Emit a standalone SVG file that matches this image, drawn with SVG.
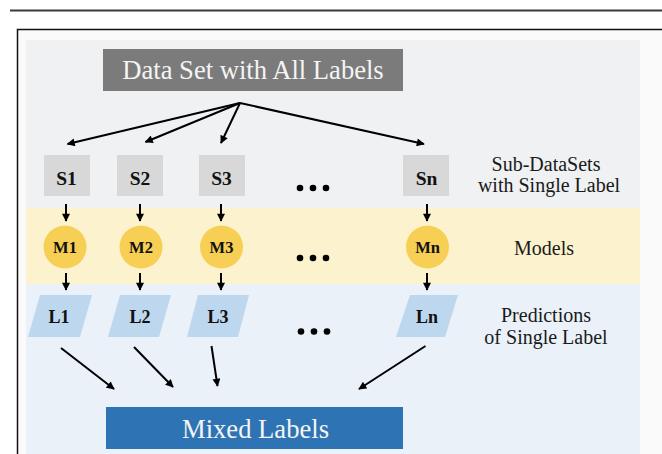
<svg xmlns="http://www.w3.org/2000/svg" width="662" height="454" viewBox="0 0 662 454">
<style>
.lab{font-family:'Liberation Serif','DejaVu Serif',serif;text-anchor:middle}
.big{font-size:26.6px;fill:#f4f4f4}
.side{font-size:20px;fill:#1a1a1a}
.bold{font-weight:bold;fill:#111}
.sbox{fill:#d8d8d8}
.mc{fill:#f8cf55}
.lp{fill:#bdd7ee}
.ar{stroke:#000;stroke-width:2;fill:none;marker-end:url(#ah)}
.dot{fill:#000}
</style>
<defs>
<marker id="ah" viewBox="0 0 10 10" refX="9" refY="5" markerUnits="userSpaceOnUse" markerWidth="9" markerHeight="8" orient="auto">
<path d="M0,0 L10,5 L0,10 z" fill="#000"/>
</marker>
</defs>
<rect x="0" y="0" width="662" height="454" fill="#ffffff"/>
<line x1="10" y1="10.5" x2="662" y2="10.5" stroke="#3a3a3a" stroke-width="2"/>
<rect x="17.5" y="29.5" width="650" height="430" fill="#fafafa" stroke="#111" stroke-width="1.5"/>
<rect x="26" y="40" width="614" height="168" fill="#eff1f3"/>
<rect x="26" y="208" width="614" height="76" fill="#fcf2ce"/>
<rect x="26" y="284" width="614" height="170" fill="#eaf1f8"/>

<g id="dataset">
<rect x="103" y="49" width="300" height="42" fill="#7b7b7b"/>
<text class="lab big" x="253" y="79">Data Set with All Labels</text>
</g>

<g id="S1"><rect class="sbox" x="44" y="155" width="46" height="41"/><text class="lab bold" font-size="19.5" x="66.5" y="185">S1</text></g>
<g id="S2"><rect class="sbox" x="117" y="155" width="46" height="41"/><text class="lab bold" font-size="19.5" x="140" y="185">S2</text></g>
<g id="S3"><rect class="sbox" x="199" y="155" width="46" height="41"/><text class="lab bold" font-size="19.5" x="221.5" y="185">S3</text></g>
<g id="Sn"><rect class="sbox" x="403" y="155" width="46" height="41"/><text class="lab bold" font-size="19.5" x="426.5" y="185">Sn</text></g>

<g id="M1"><circle class="mc" cx="65" cy="247" r="21.5"/><text class="lab bold" font-size="16.5" x="65" y="252.5">M1</text></g>
<g id="M2"><circle class="mc" cx="141" cy="247" r="21.5"/><text class="lab bold" font-size="16.5" x="141" y="252.5">M2</text></g>
<g id="M3"><circle class="mc" cx="221.5" cy="247" r="21.5"/><text class="lab bold" font-size="16.5" x="221.5" y="252.5">M3</text></g>
<g id="Mn"><circle class="mc" cx="427.5" cy="247" r="21.5"/><text class="lab bold" font-size="16.5" x="427.5" y="252.5">Mn</text></g>

<g id="L1"><polygon class="lp" points="40,295 92,295 80,337 28,337"/><text class="lab bold" font-size="18" x="59" y="323">L1</text></g>
<g id="L2"><polygon class="lp" points="120,295 171,295 159,337 108,337"/><text class="lab bold" font-size="18" x="140" y="323">L2</text></g>
<g id="L3"><polygon class="lp" points="198,295 249,295 238,337 187,337"/><text class="lab bold" font-size="18" x="218" y="323">L3</text></g>
<g id="Ln"><polygon class="lp" points="410,295 458,295 445,337 396,337"/><text class="lab bold" font-size="18" x="427" y="323">Ln</text></g>

<g id="mixed">
<rect x="106" y="407" width="297" height="42" fill="#2e74b5"/>
<text class="lab big" x="255.5" y="437.5">Mixed Labels</text>
</g>

<g id="ellipses">
<circle class="dot" cx="300" cy="188" r="3.3"/><circle class="dot" cx="313" cy="188" r="3.3"/><circle class="dot" cx="326" cy="188" r="3.3"/>
<circle class="dot" cx="300" cy="258" r="3.3"/><circle class="dot" cx="313" cy="258" r="3.3"/><circle class="dot" cx="326" cy="258" r="3.3"/>
<circle class="dot" cx="301" cy="331.5" r="3.3"/><circle class="dot" cx="314" cy="331.5" r="3.3"/><circle class="dot" cx="327" cy="331.5" r="3.3"/>
</g>

<g id="row-labels">
<text class="lab side" x="546" y="170.5">Sub-DataSets</text>
<text class="lab side" x="549" y="192">with Single Label</text>
<text class="lab side" x="544" y="255">Models</text>
<text class="lab side" x="546" y="321.5">Predictions</text>
<text class="lab side" x="546" y="344">of Single Label</text>
</g>

<g id="connectors">
<line class="ar" x1="240" y1="103" x2="67.5" y2="144"/>
<line class="ar" x1="240" y1="103" x2="145.5" y2="142"/>
<line class="ar" x1="240" y1="103" x2="221" y2="143"/>
<line class="ar" x1="240" y1="103" x2="424" y2="144"/>
<line class="ar" x1="66" y1="204" x2="66" y2="221"/>
<line class="ar" x1="140" y1="204" x2="140" y2="221"/>
<line class="ar" x1="221" y1="204" x2="221" y2="221"/>
<line class="ar" x1="427" y1="204" x2="427" y2="221"/>
<line class="ar" x1="66" y1="273" x2="66" y2="290"/>
<line class="ar" x1="140" y1="273" x2="140" y2="290"/>
<line class="ar" x1="221" y1="273" x2="221" y2="290"/>
<line class="ar" x1="427" y1="273" x2="427" y2="290"/>
<line class="ar" x1="61" y1="348" x2="114" y2="389"/>
<line class="ar" x1="134" y1="347" x2="173" y2="387"/>
<line class="ar" x1="211.5" y1="346" x2="217.5" y2="386"/>
<line class="ar" x1="425.5" y1="346" x2="359" y2="389"/>
</g>
</svg>
